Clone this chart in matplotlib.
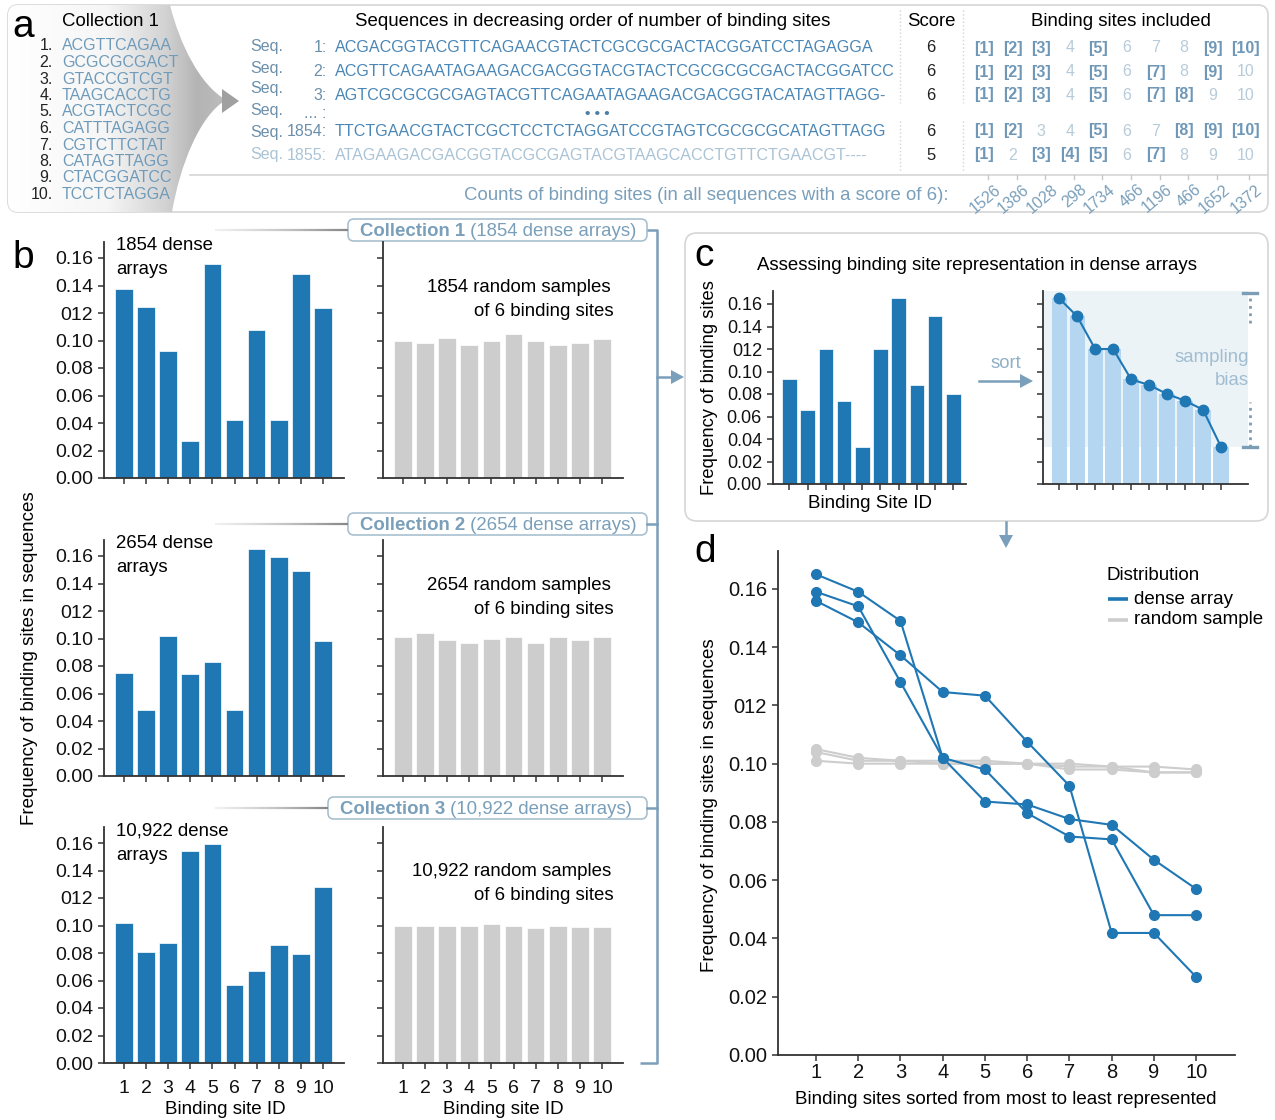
import matplotlib.pyplot as plt
import numpy as np
from matplotlib.patches import FancyBboxPatch, PathPatch, Polygon
from matplotlib.path import Path
from matplotlib.collections import LineCollection
from matplotlib.colors import LinearSegmentedColormap

plt.rcParams['font.family'] = ['Liberation Sans', 'DejaVu Sans']

W, H = 1275, 1120

# ---- data ----
site_ids = np.arange(1, 11)
ytick_vals = np.arange(0, 0.161, 0.02)
ytick_text = ['0.00', '0.02', '0.04', '0.06', '0.08', '0.10', '012', '0.14', '0.16']

motifs = ['ACGTTCAGAA', 'GCGCGCGACT', 'GTACCGTCGT', 'TAAGCACCTG', 'ACGTACTCGC',
          'CATTTAGAGG', 'CGTCTTCTAT', 'CATAGTTAGG', 'CTACGGATCC', 'TCCTCTAGGA']

seq_ids = ['1:', '2:', '3:', '... :', '1854:', '1855:']
seqs = ['ACGACGGTACGTTCAGAACGTACTCGCGCGACTACGGATCCTAGAGGA',
        'ACGTTCAGAATAGAAGACGACGGTACGTACTCGCGCGCGACTACGGATCC',
        'AGTCGCGCGCGAGTACGTTCAGAATAGAAGACGACGGTACATAGTTAGG-',
        '',
        'TTCTGAACGTACTCGCTCCTCTAGGATCCGTAGTCGCGCGCATAGTTAGG',
        'ATAGAAGACGACGGTACGCGAGTACGTAAGCACCTGTTCTGAACGT----']
scores = ['6', '6', '6', '', '6', '5']
included = [{1, 2, 3, 5, 9, 10}, {1, 2, 3, 5, 7, 9}, {1, 2, 3, 5, 7, 8}, None,
            {1, 2, 5, 8, 9, 10}, {1, 3, 4, 5, 7}]
counts = np.array([1526, 1386, 1028, 298, 1734, 466, 1196, 466, 1652, 1372])

dense1 = counts / counts.sum()
rand1 = [0.100, 0.098, 0.102, 0.097, 0.100, 0.105, 0.100, 0.097, 0.098, 0.101]
dense2 = [0.075, 0.048, 0.102, 0.074, 0.083, 0.048, 0.165, 0.159, 0.149, 0.098]
rand2 = [0.101, 0.104, 0.099, 0.097, 0.100, 0.101, 0.097, 0.101, 0.099, 0.101]
dense3 = [0.102, 0.081, 0.087, 0.154, 0.159, 0.057, 0.067, 0.086, 0.079, 0.128]
rand3 = [0.100, 0.100, 0.100, 0.100, 0.101, 0.100, 0.098, 0.100, 0.099, 0.099]

n_arrays = ['1854', '2654', '10,922']
c_example = [0.093, 0.066, 0.120, 0.074, 0.033, 0.120, 0.165, 0.088, 0.149, 0.080]

blue = '#1f77b4'
grey = '#cdcdcd'
steel = '#7a9fba'
dark = '#333333'
FS = 13.4

fig = plt.figure(figsize=(W / 100, H / 100), dpi=100)
ov = fig.add_axes([0, 0, 1, 1])
ov.axis('off')


def px_axes(x0, y0, x1, y1):
    return fig.add_axes([x0 / W, 1 - y1 / H, (x1 - x0) / W, (y1 - y0) / H], facecolor='none')


def style(ax, top, fs, ylab=True, xlab=False):
    for s in ('top', 'right'):
        ax.spines[s].set_visible(False)
    for s in ('left', 'bottom'):
        ax.spines[s].set_color(dark)
        ax.spines[s].set_linewidth(1.3)
    ax.set_ylim(0, top)
    ax.set_yticks(ytick_vals)
    ax.set_yticklabels(ytick_text if ylab else [])
    ax.set_xticks(site_ids)
    ax.set_xticklabels([str(i) for i in site_ids] if xlab else [])
    ax.tick_params(length=4, width=1.1, color=dark, labelsize=fs, pad=4, labelcolor='#111111')


def arrow_head(x, y, d, s=7):
    # small filled triangle pointing right ('r') or down ('d')
    if d == 'r':
        pts = [(x - 13, y - s), (x, y), (x - 13, y + s)]
    else:
        pts = [(x - s, y - 13), (x, y), (x + s, y - 13)]
    ov.add_patch(Polygon(pts, closed=True, color=steel, lw=0))


# ---- panel a ----
ov.add_patch(FancyBboxPatch((8, 5), 1260, 207, boxstyle='round,pad=0,rounding_size=10',
                            fc='white', ec='#d6d6d6', lw=1.2, zorder=0))
verts = [(18, 5), (170, 5), (180, 45), (200, 85), (226, 100), (200, 115), (180, 165), (172, 212),
         (18, 212), (8, 212), (8, 202), (8, 15), (8, 5), (18, 5), (18, 5)]
codes = [Path.MOVETO, Path.LINETO, Path.CURVE4, Path.CURVE4, Path.CURVE4, Path.CURVE4,
         Path.CURVE4, Path.CURVE4, Path.LINETO, Path.CURVE3, Path.CURVE3, Path.LINETO,
         Path.CURVE3, Path.CURVE3, Path.CLOSEPOLY]
funnel = PathPatch(Path(verts, codes), fc='none', ec='none', transform=ov.transData)
ov.add_patch(funnel)
fade = LinearSegmentedColormap.from_list(
    'fade', [(0, '#ffffff'), (0.45, '#f6f6f6'), (0.72, '#d2d2d2'), (0.86, '#b4b4b4'), (1, '#bdbdbd')])
im = ov.imshow(np.linspace(0, 1, 256).reshape(1, -1), extent=(8, 228, 212, 5), cmap=fade,
               aspect='auto', zorder=1)
im.set_clip_path(funnel)
ov.add_patch(Polygon([(222, 89), (239, 101), (222, 113)], closed=True, color='#a0a0a0', lw=0, zorder=2))
ov.plot([190, 1268], [175, 175], color='#d6d6d6', lw=1.2, zorder=1)
for xs in (900, 963):
    ov.plot([xs, xs], [10, 103], color='#d3d3d3', lw=1, ls=':', zorder=1)
    ov.plot([xs, xs], [121, 172], color='#d3d3d3', lw=1, ls=':', zorder=1)

ov.text(23, 27, 'a', fontsize=28, ha='center', va='center', zorder=3)
ov.text(62, 21, 'Collection 1', fontsize=FS, va='center', zorder=3)
for i, m in enumerate(motifs):
    y = 46 + i * 16.5
    ov.text(53, y, f'{i + 1}.', fontsize=11.5, ha='right', va='center', color='#222222', zorder=3)
    ov.text(62, y, m, fontsize=11.5, va='center', color='#6f9bbb', zorder=3)

ov.text(593, 21, 'Sequences in decreasing order of number of binding sites', fontsize=FS,
        ha='center', va='center')
ov.text(931, 21, 'Score', fontsize=FS, ha='center', va='center')
ov.text(1121, 21, 'Binding sites included', fontsize=FS, ha='center', va='center')

seq_y = [48, 72, 95, 114, 131, 155]
lab_dy = [-1, -4, -6, -3, 1, 0]
col_x = 984 + 28.6 * np.arange(10) + np.r_[np.zeros(9), 4]
for r in range(6):
    faded = r == 5
    lc = '#aac3d5' if faded else '#6b8fab'
    sc = '#aac3d5' if faded else '#4b87b6'
    y = seq_y[r]
    ov.text(250, y + lab_dy[r], 'Seq.', fontsize=11.5, va='center', color=lc)
    ov.text(327, y, seq_ids[r], fontsize=11.5, ha='right', va='center', color=lc)
    if seqs[r]:
        ov.text(335, y, seqs[r], fontsize=11.6, va='center', color=sc)
    if scores[r]:
        ov.text(931, y, scores[r], fontsize=12, ha='center', va='center', color='#222222')
    if included[r] is not None:
        for k, cx in zip(site_ids, col_x):
            if k in included[r]:
                ov.text(cx, y, f'[{k}]', fontsize=11.5, ha='center', va='center',
                        color='#6f98b8', fontweight='bold')
            else:
                ov.text(cx, y, str(k), fontsize=11.5, ha='center', va='center', color='#b7cbd9')
ov.text(597, 114, '\u2022 \u2022 \u2022', fontsize=11, ha='center', va='center', color='#4b7fa8',
        fontweight='bold')

ov.text(948, 195, 'Counts of binding sites (in all sequences with a score of 6):', fontsize=FS,
        ha='right', va='center', color=steel)
for c, cx in zip(counts, col_x):
    ov.plot([cx + 4, cx + 4], [175, 179], color='#c8c8c8', lw=1)
    ov.text(cx + 10, 182, str(c), fontsize=11.5, ha='right', va='top', rotation=40,
            rotation_mode='anchor', color=steel)

# ---- panel b ----
ov.text(23, 258, 'b', fontsize=28, ha='center', va='center')
ov.text(30, 658, 'Frequency of binding sites in sequences', fontsize=13.5, rotation=90,
        ha='center', va='center')

rows = [(dense1, rand1), (dense2, rand2), (dense3, rand3)]
bottoms = [478, 776, 1063]
box_y = [230, 524, 808]
box_x0 = [348, 348, 328]
for i, (dn, rn) in enumerate(rows):
    yb = bottoms[i]
    last = i == 2
    axd = px_axes(104, yb - 236.5, 344, yb)
    axd.bar(site_ids, dn, width=0.8, color=blue, edgecolor='white', linewidth=0.5)
    axd.set_xlim(0.1, 10.95)
    style(axd, 0.172, 14, ylab=True, xlab=last)
    axr = px_axes(383, yb - 236.5, 623, yb)
    axr.bar(site_ids, rn, width=0.8, color=grey, edgecolor='white', linewidth=0.5)
    axr.set_xlim(0.1, 10.95)
    style(axr, 0.172, 14, ylab=False, xlab=last)
    if last:
        axd.tick_params(axis='x', pad=8)
        axr.tick_params(axis='x', pad=8)

    ov.text(116, yb - 232, f'{n_arrays[i]} dense', fontsize=FS, va='center')
    ov.text(116, yb - 208, 'arrays', fontsize=FS, va='center')
    ov.text(611, yb - 191, f'{n_arrays[i]} random samples', fontsize=FS, ha='right', va='center')
    ov.text(614, yb - 167, 'of 6 binding sites', fontsize=FS, ha='right', va='center')

    by = box_y[i]
    x0 = box_x0[i]
    segx = np.linspace(215, x0, 40)
    segs = [[(segx[j], by), (segx[j + 1], by)] for j in range(39)]
    ov.add_collection(LineCollection(segs, colors=plt.cm.Greys(np.linspace(0.12, 0.55, 39)), lw=1.6))
    ov.add_patch(FancyBboxPatch((x0, by - 11), 647 - x0, 22, boxstyle='round,pad=0,rounding_size=6',
                                fc='white', ec='#a9c0d1', lw=1.2))
    t = ov.text(x0 + 12, by + 1, f'Collection {i + 1}', fontsize=FS, fontweight='bold',
                color=steel, va='center')
    ov.annotate(f' ({n_arrays[i]} dense arrays)', xy=(1, 0.5), xycoords=t, va='center',
                fontsize=FS, color=steel, xytext=(0, 0), textcoords='offset points')

ov.text(225, 1110, 'Binding site ID', fontsize=13.5, ha='center', va='center')
ov.text(503, 1110, 'Binding site ID', fontsize=13.5, ha='center', va='center')

ov.plot([647, 657, 657, 640], [230, 230, 1063, 1063], color=steel, lw=1.8, solid_capstyle='butt')
for by in box_y[1:]:
    ov.plot([647, 657], [by, by], color=steel, lw=1.8)
ov.plot([657, 672], [377, 377], color=steel, lw=1.8)
arrow_head(684, 377, 'r')

# ---- panel c ----
ov.add_patch(FancyBboxPatch((685, 233), 583, 288, boxstyle='round,pad=0,rounding_size=12',
                            fc='white', ec='#d6d6d6', lw=1.2, zorder=0))
ov.text(704, 256, 'c', fontsize=28, ha='center', va='center')
ov.text(977, 265, 'Assessing binding site representation in dense arrays', fontsize=FS,
        ha='center', va='center')
ov.text(710, 388, 'Frequency of binding sites', fontsize=13.2, rotation=90, ha='center', va='center')
ov.text(870, 503, 'Binding Site ID', fontsize=13.5, ha='center', va='center')

axc1 = px_axes(773, 484 - 193.5, 966, 484)
axc1.bar(site_ids, c_example, width=0.8, color=blue, edgecolor='white', linewidth=0.5)
axc1.set_xlim(0.1, 10.7)
style(axc1, 0.172, 13)

c_sorted = np.sort(c_example)[::-1]
axc2 = px_axes(1043, 484 - 193.5, 1248, 484)
axc2.set_xlim(0.1, 11.5)
axc2.fill_between([0.1, 11.5], c_sorted.min(), 0.172, color='#ecf3f7', lw=0, zorder=0)
axc2.bar(site_ids, c_sorted, width=0.85, color='#b4d6f1', zorder=1)
axc2.plot(site_ids, c_sorted, color=blue, lw=1.5, marker='o', ms=7.5, zorder=3)
style(axc2, 0.172, 13, ylab=False)
bc = '#7b9db6'
axc2.plot([11.6, 11.6], [c_sorted.min(), 0.073], color=bc, lw=2, ls=':', clip_on=False)
axc2.plot([11.6, 11.6], [0.143, 0.170], color=bc, lw=2, ls=':', clip_on=False)
for yy in (c_sorted.min(), 0.170):
    axc2.plot([11.2, 12.0], [yy, yy], color=bc, lw=2.4, clip_on=False)
axc2.text(11.55, 0.112, 'sampling', fontsize=FS, ha='right', va='center', color='#a1bdd1')
axc2.text(11.55, 0.092, 'bias', fontsize=FS, ha='right', va='center', color='#a1bdd1')

ov.text(1006, 364, 'sort', fontsize=FS, ha='center', va='center', color='#8fb0c6')
ov.plot([979, 1021], [381, 381], color=steel, lw=1.8)
arrow_head(1033, 381, 'r')
ov.plot([1006, 1006], [522, 536], color=steel, lw=1.8)
arrow_head(1006, 548, 'd')

# ---- panel d ----
ov.text(705, 552, 'd', fontsize=28, ha='center', va='center')
ov.text(709, 805, 'Frequency of binding sites in sequences', fontsize=13.5, rotation=90,
        ha='center', va='center')
ov.text(1006, 1100, 'Binding sites sorted from most to least represented', fontsize=13.5,
        ha='center', va='center')

axd4 = px_axes(778, 551, 1235, 1055)
for rn in (rand1, rand2, rand3):
    axd4.plot(site_ids, np.sort(rn)[::-1], color=grey, lw=1.5, marker='o', ms=7)
for dn in (dense1, dense2, dense3):
    axd4.plot(site_ids, np.sort(dn)[::-1], color=blue, lw=1.5, marker='o', ms=7)
axd4.set_xlim(0.1, 10.92)
style(axd4, 0.173, 14.5, xlab=True)
axd4.tick_params(axis='x', pad=2)

# legend for panel d
ov.text(1106, 575, 'Distribution', fontsize=13.5, va='center')
for ly, col, lab in ((599, blue, 'dense array'), (620, grey, 'random sample')):
    ov.plot([1108, 1128], [ly, ly], color=col, lw=2.6, solid_capstyle='butt')
    ov.text(1134, ly, lab, fontsize=13.5, va='center')

ov.set_xlim(0, W)
ov.set_ylim(H, 0)
fig.savefig('out.png', dpi=100)
